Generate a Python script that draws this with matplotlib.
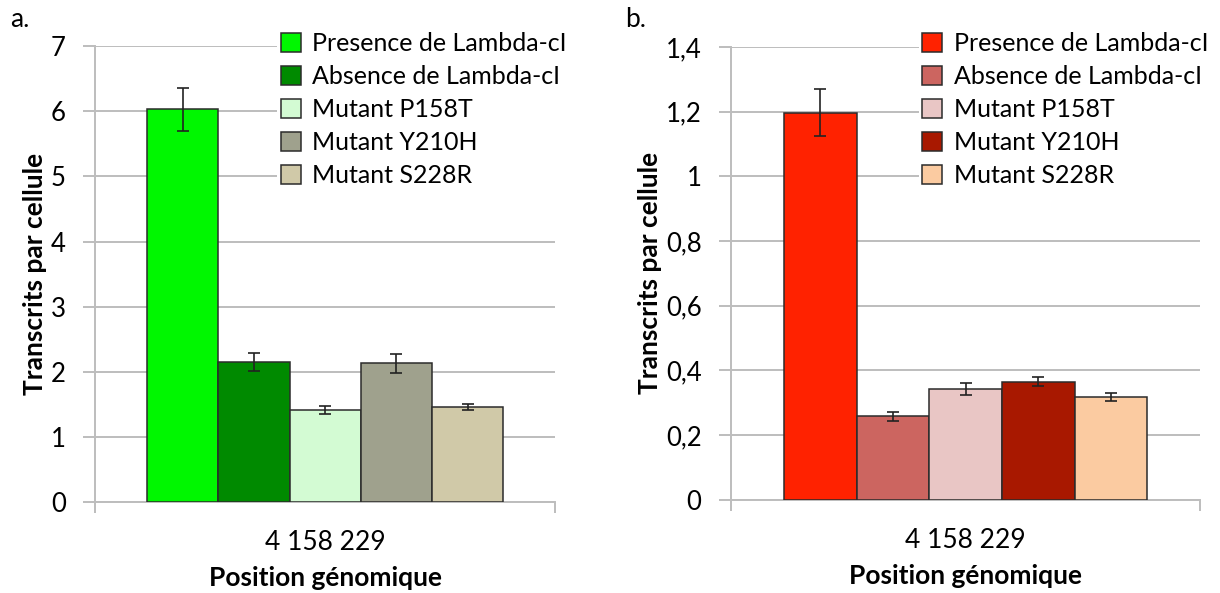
import numpy as np
import matplotlib
matplotlib.use("Agg")
import matplotlib.pyplot as plt

plt.rcParams['font.family'] = ['Lato', 'DejaVu Sans']

# data
series = ['Presence de Lambda-cI', 'Absence de Lambda-cI', 'Mutant P158T',
          'Mutant Y210H', 'Mutant S228R']
category = '4 158 229'

vals_a = [6.03, 2.15, 1.41, 2.13, 1.46]
err_a = [0.33, 0.14, 0.06, 0.15, 0.04]
colors_a = ['#00f700', '#008a00', '#d3fbd3', '#9fa18d', '#d0c9a8']

vals_b = [1.197, 0.258, 0.342, 0.365, 0.318]
err_b = [0.073, 0.013, 0.019, 0.014, 0.013]
colors_b = ['#ff2200', '#cc6560', '#e9c6c5', '#a81800', '#fbcba1']

yticks_a = [0, 1, 2, 3, 4, 5, 6, 7]
yticks_b = [0, 0.2, 0.4, 0.6, 0.8, 1.0, 1.2, 1.4]
ylabels_b = ['0', '0,2', '0,4', '0,6', '0,8', '1', '1,2', '1,4']

fig = plt.figure(figsize=(12.2, 5.93), dpi=100)
ax_a = fig.add_axes([0.078, 0.1535, 0.377, 0.7685])
ax_b = fig.add_axes([0.599, 0.157, 0.385, 0.764])

grid_col = '#bdbdbd'


def draw(ax, vals, errs, colors, yticks, ylabels, legend_x):
    n = len(vals)
    x = np.arange(n) - (n - 1) / 2
    for i in range(n):
        ax.bar(x[i], vals[i], width=1.0, color=colors[i], edgecolor='#2b2b2b',
               linewidth=1.1, label=series[i], zorder=3)
        ax.errorbar(x[i], vals[i], yerr=errs[i], color='#222222', lw=1.2,
                    capsize=4.5, capthick=1.2, zorder=4)
    half = n / 2 + 0.73
    ax.set_xlim(-half, half)
    ax.set_ylim(yticks[0], yticks[-1])
    ax.set_yticks(yticks)
    ax.set_yticklabels(ylabels, fontsize=18.5)
    ax.yaxis.grid(True, color=grid_col, lw=1.4, zorder=0)
    ax.set_axisbelow(True)
    ax.set_xticks([0])
    ax.set_xticklabels([category], fontsize=19)
    ax.set_xticks([-half, half], minor=True)
    ax.tick_params(axis='x', which='major', length=0, pad=20)
    ax.tick_params(axis='x', which='minor', length=8, width=1.4, color=grid_col,
                   direction='out')
    ax.tick_params(axis='y', length=9, width=1.4, color=grid_col, pad=12)
    for s in ['top', 'right']:
        ax.spines[s].set_visible(False)
    for s in ['left', 'bottom']:
        ax.spines[s].set_color(grid_col)
        ax.spines[s].set_linewidth(1.4)
    ax.set_ylabel('Transcrits par cellule', fontsize=19, fontweight='bold',
                  labelpad=3)
    ax.set_xlabel('Position génomique', fontsize=19, fontweight='bold',
                  labelpad=8)
    leg = ax.legend(loc='upper left', bbox_to_anchor=(legend_x, 1.04),
                    fontsize=18, frameon=True, framealpha=1, edgecolor='none',
                    handlelength=0.8, handleheight=0.8, handletextpad=0.45,
                    labelspacing=0.4, borderpad=0.15, borderaxespad=0)
    leg.set_zorder(5)
    return ax


draw(ax_a, vals_a, err_a, colors_a, yticks_a, [str(t) for t in yticks_a], 0.395)
draw(ax_b, vals_b, err_b, colors_b, yticks_b, ylabels_b, 0.40)

fig.text(0.008, 0.955, 'a.', fontsize=19)
fig.text(0.512, 0.955, 'b.', fontsize=19)

fig.savefig('out.png', dpi=100)
